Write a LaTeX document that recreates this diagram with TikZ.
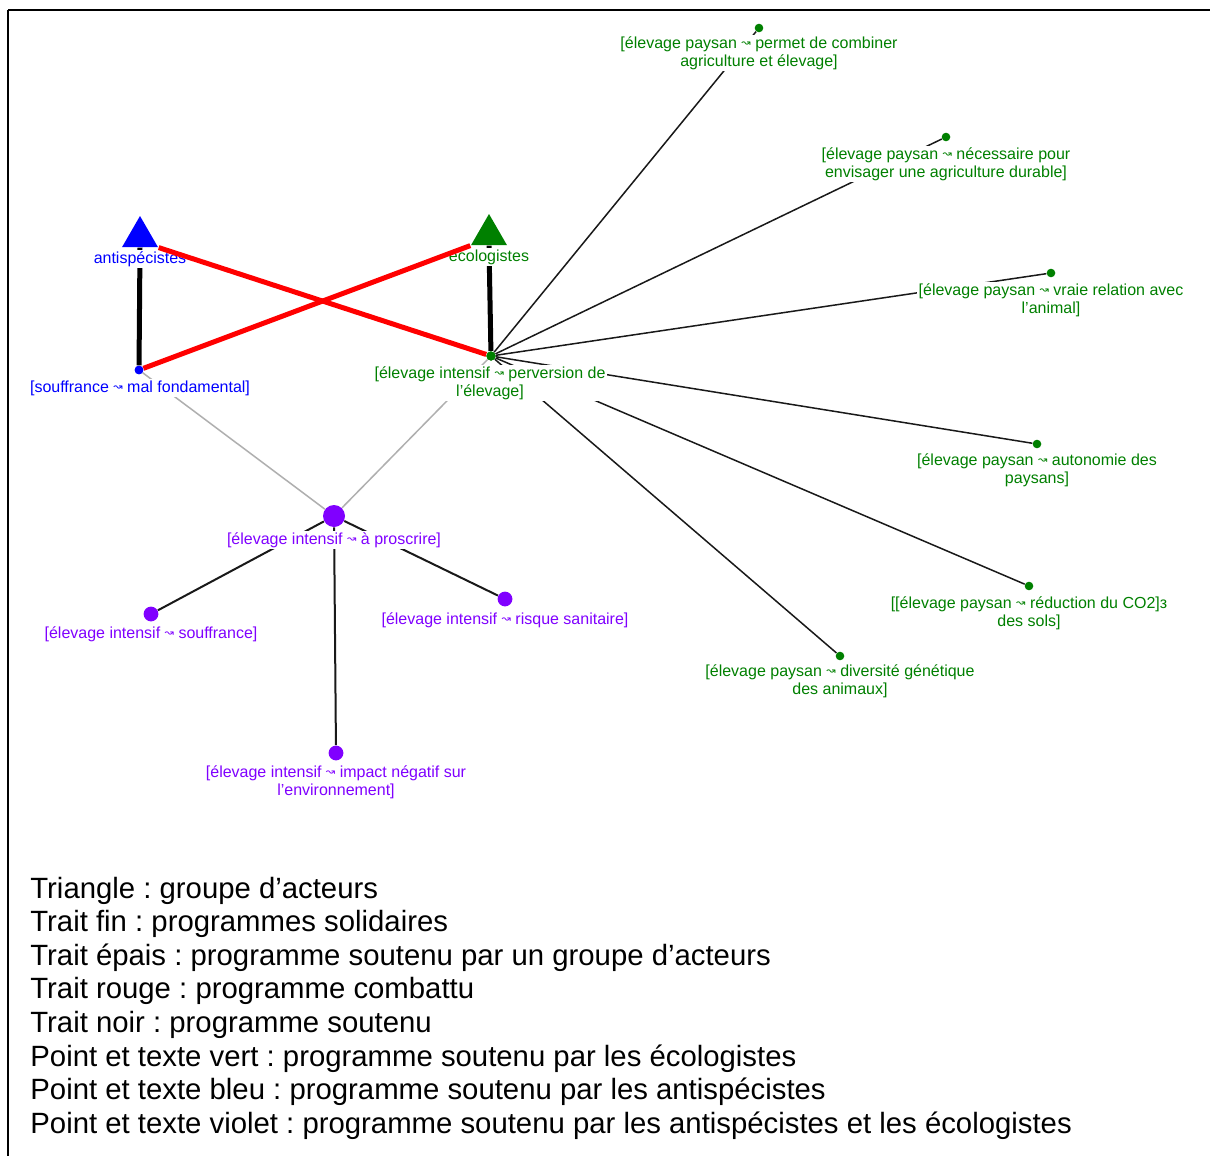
\documentclass[tikz,border=0pt]{standalone}
\usepackage{fontspec}
\usepackage{graphicx}
\setmainfont{Liberation Sans}
\newfontfamily\symfont{DejaVu Sans}
\usetikzlibrary{shapes.geometric}
\newcommand\wv{\raisebox{0.2ex}{\scalebox{0.7}{\symfont ↝}}}
\definecolor{ecogreen}{RGB}{0,128,0}
\definecolor{antiblue}{RGB}{0,0,255}
\definecolor{viol}{RGB}{128,0,255}
\definecolor{redl}{RGB}{255,0,0}
\definecolor{edgeblack}{RGB}{25,25,25}
\definecolor{edgegray}{RGB}{175,175,175}
\pgfdeclarelayer{bg}
\pgfdeclarelayer{top}
\pgfsetlayers{bg,main,top}
\frenchspacing
\tikzset{
  lbl/.style={font=\fontsize{8}{9}\selectfont, align=center, inner sep=0.6pt, fill=white},
  grn/.style={lbl, text=ecogreen},
  blu/.style={lbl, text=antiblue},
  vio/.style={lbl, text=viol},
  dotnode/.style={circle, inner sep=0pt, minimum size=#1},
  gdot/.style={dotnode=4.3pt, fill=ecogreen},
  vdot/.style={dotnode=7.4pt, fill=viol},
  tri/.style={regular polygon, regular polygon sides=3, inner sep=0pt, minimum size=20.8pt},
  thickedge/.style={line width=2.5pt, black},
  rededge/.style={line width=2.5pt, redl},
  thinedge/.style={line width=0.75pt, edgeblack},
  vedge/.style={line width=1pt, edgeblack},
  grayedge/.style={line width=0.75pt, edgegray},
  framel/.style={line width=0.75pt, black},
  legend/.style={font=\fontsize{14.66}{16.8}\selectfont, anchor=base west, inner sep=0pt}
}
\begin{document}
\begin{tikzpicture}[x=0.5pt,y=-0.5pt]
\begin{pgfonlayer}{bg}
\fill[white] (0,0) rectangle (1210,1156);
\end{pgfonlayer}
\useasboundingbox (0,0) rectangle (1210,1156);
\coordinate (fbl) at (8,1156);
\coordinate (ftl) at (8,10);
\coordinate (ftr) at (1210,10);
\draw[framel] (fbl) -- (ftl);
\draw[framel] (ftl) -- (ftr);

% actor triangles
\node[tri, fill=antiblue] (anti) at (140,236.8) {};
\node[tri, fill=ecogreen] (eco) at (489,234.8) {};
\node[blu] (antilbl) at (140,259) {antispécistes};
\node[grn] (ecolbl) at (489,257) {écologistes};

% programme dots
\node[dotnode=4.3pt, fill=antiblue] (souf) at (139,370) {};
\node[dotnode=4.6pt, fill=ecogreen] (central) at (491,356) {};
\node[dotnode=11pt, fill=viol] (proscr) at (334,516) {};
\node[vdot] (vsouf) at (151,614) {};
\node[vdot] (risque) at (505,599) {};
\node[vdot] (impact) at (336,753) {};
\node[gdot] (permet) at (759,28) {};
\node[gdot] (necess) at (946,137) {};
\node[gdot] (vraie) at (1051,273) {};
\node[gdot] (auto) at (1037,444) {};
\node[gdot] (reduc) at (1029,586) {};
\node[gdot] (divers) at (840,656) {};

% labels
\node[blu] (souflbl) at (140,388) {[souffrance \wv{} mal fondamental]};
\node[grn] (centrallbl) at (490,383) {[élevage intensif \wv{} perversion de\\l'élevage]};
\node[vio] (proscrlbl) at (334,540) {[élevage intensif \wv{} à proscrire]};
\node[vio] (vsouflbl) at (151,634) {[élevage intensif \wv{} souffrance]};
\node[vio] (risquelbl) at (505,620) {[élevage intensif \wv{} risque sanitaire]};
\node[vio] (impactlbl) at (336,782) {[élevage intensif \wv{} impact négatif sur\\l'environnement]};
\node[grn] (permetlbl) at (759,53) {[élevage paysan \wv{} permet de combiner\\agriculture et élevage]};
\node[grn] (necesslbl) at (946,164) {[élevage paysan \wv{} nécessaire pour\\envisager une agriculture durable]};
\node[grn] (vraielbl) at (1051,300) {[élevage paysan \wv{} vraie relation avec\\l'animal]};
\node[grn] (autolbl) at (1037,470) {[élevage paysan \wv{} autonomie des\\paysans]};
\node[grn] (reduclbl) at (1029,613) {[[élevage paysan \wv{} réduction du CO2]з\\des sols]};
\node[grn] (diverslbl) at (840,681) {[élevage paysan \wv{} diversité génétique\\des animaux]};

% connectors
\begin{pgfonlayer}{bg}
\draw[grayedge] (souf) -- (proscr);
\draw[grayedge] (central) -- (proscr);
\draw[vedge] (proscr) -- (vsouf);
\draw[vedge] (proscr) -- (risque);
\draw[vedge] (proscr) -- (impact);
\foreach \t in {permet,necess,vraie,auto,reduc,divers}
  \draw[thinedge] (central) -- (\t);
\draw[thickedge] (anti.side 2) -- (souf);
\draw[thickedge] (eco.side 2) -- (central);
\end{pgfonlayer}
\begin{pgfonlayer}{top}
\draw[rededge] (anti.corner 3) -- (central);
\draw[rededge] (souf) -- (eco.corner 2);
\node[dotnode=4.3pt, fill=antiblue] at (souf) {};
\node[dotnode=4.6pt, fill=ecogreen] at (central) {};
\end{pgfonlayer}

% legend
\node[legend] (leg1) at (30,898) {Triangle : groupe d’acteurs};
\node[legend] (leg2) at (30,931.6) {Trait fin : programmes solidaires};
\node[legend] (leg3) at (30,965.2) {Trait épais : programme soutenu par un groupe d’acteurs};
\node[legend] (leg4) at (30,998.8) {Trait rouge : programme combattu};
\node[legend] (leg5) at (30,1032.4) {Trait noir : programme soutenu};
\node[legend] (leg6) at (30,1066) {Point et texte vert : programme soutenu par les écologistes};
\node[legend] (leg7) at (30,1099.6) {Point et texte bleu : programme soutenu par les antispécistes};
\node[legend] (leg8) at (30,1133.2) {Point et texte violet : programme soutenu par les antispécistes et les écologistes};
\end{tikzpicture}
\end{document}
